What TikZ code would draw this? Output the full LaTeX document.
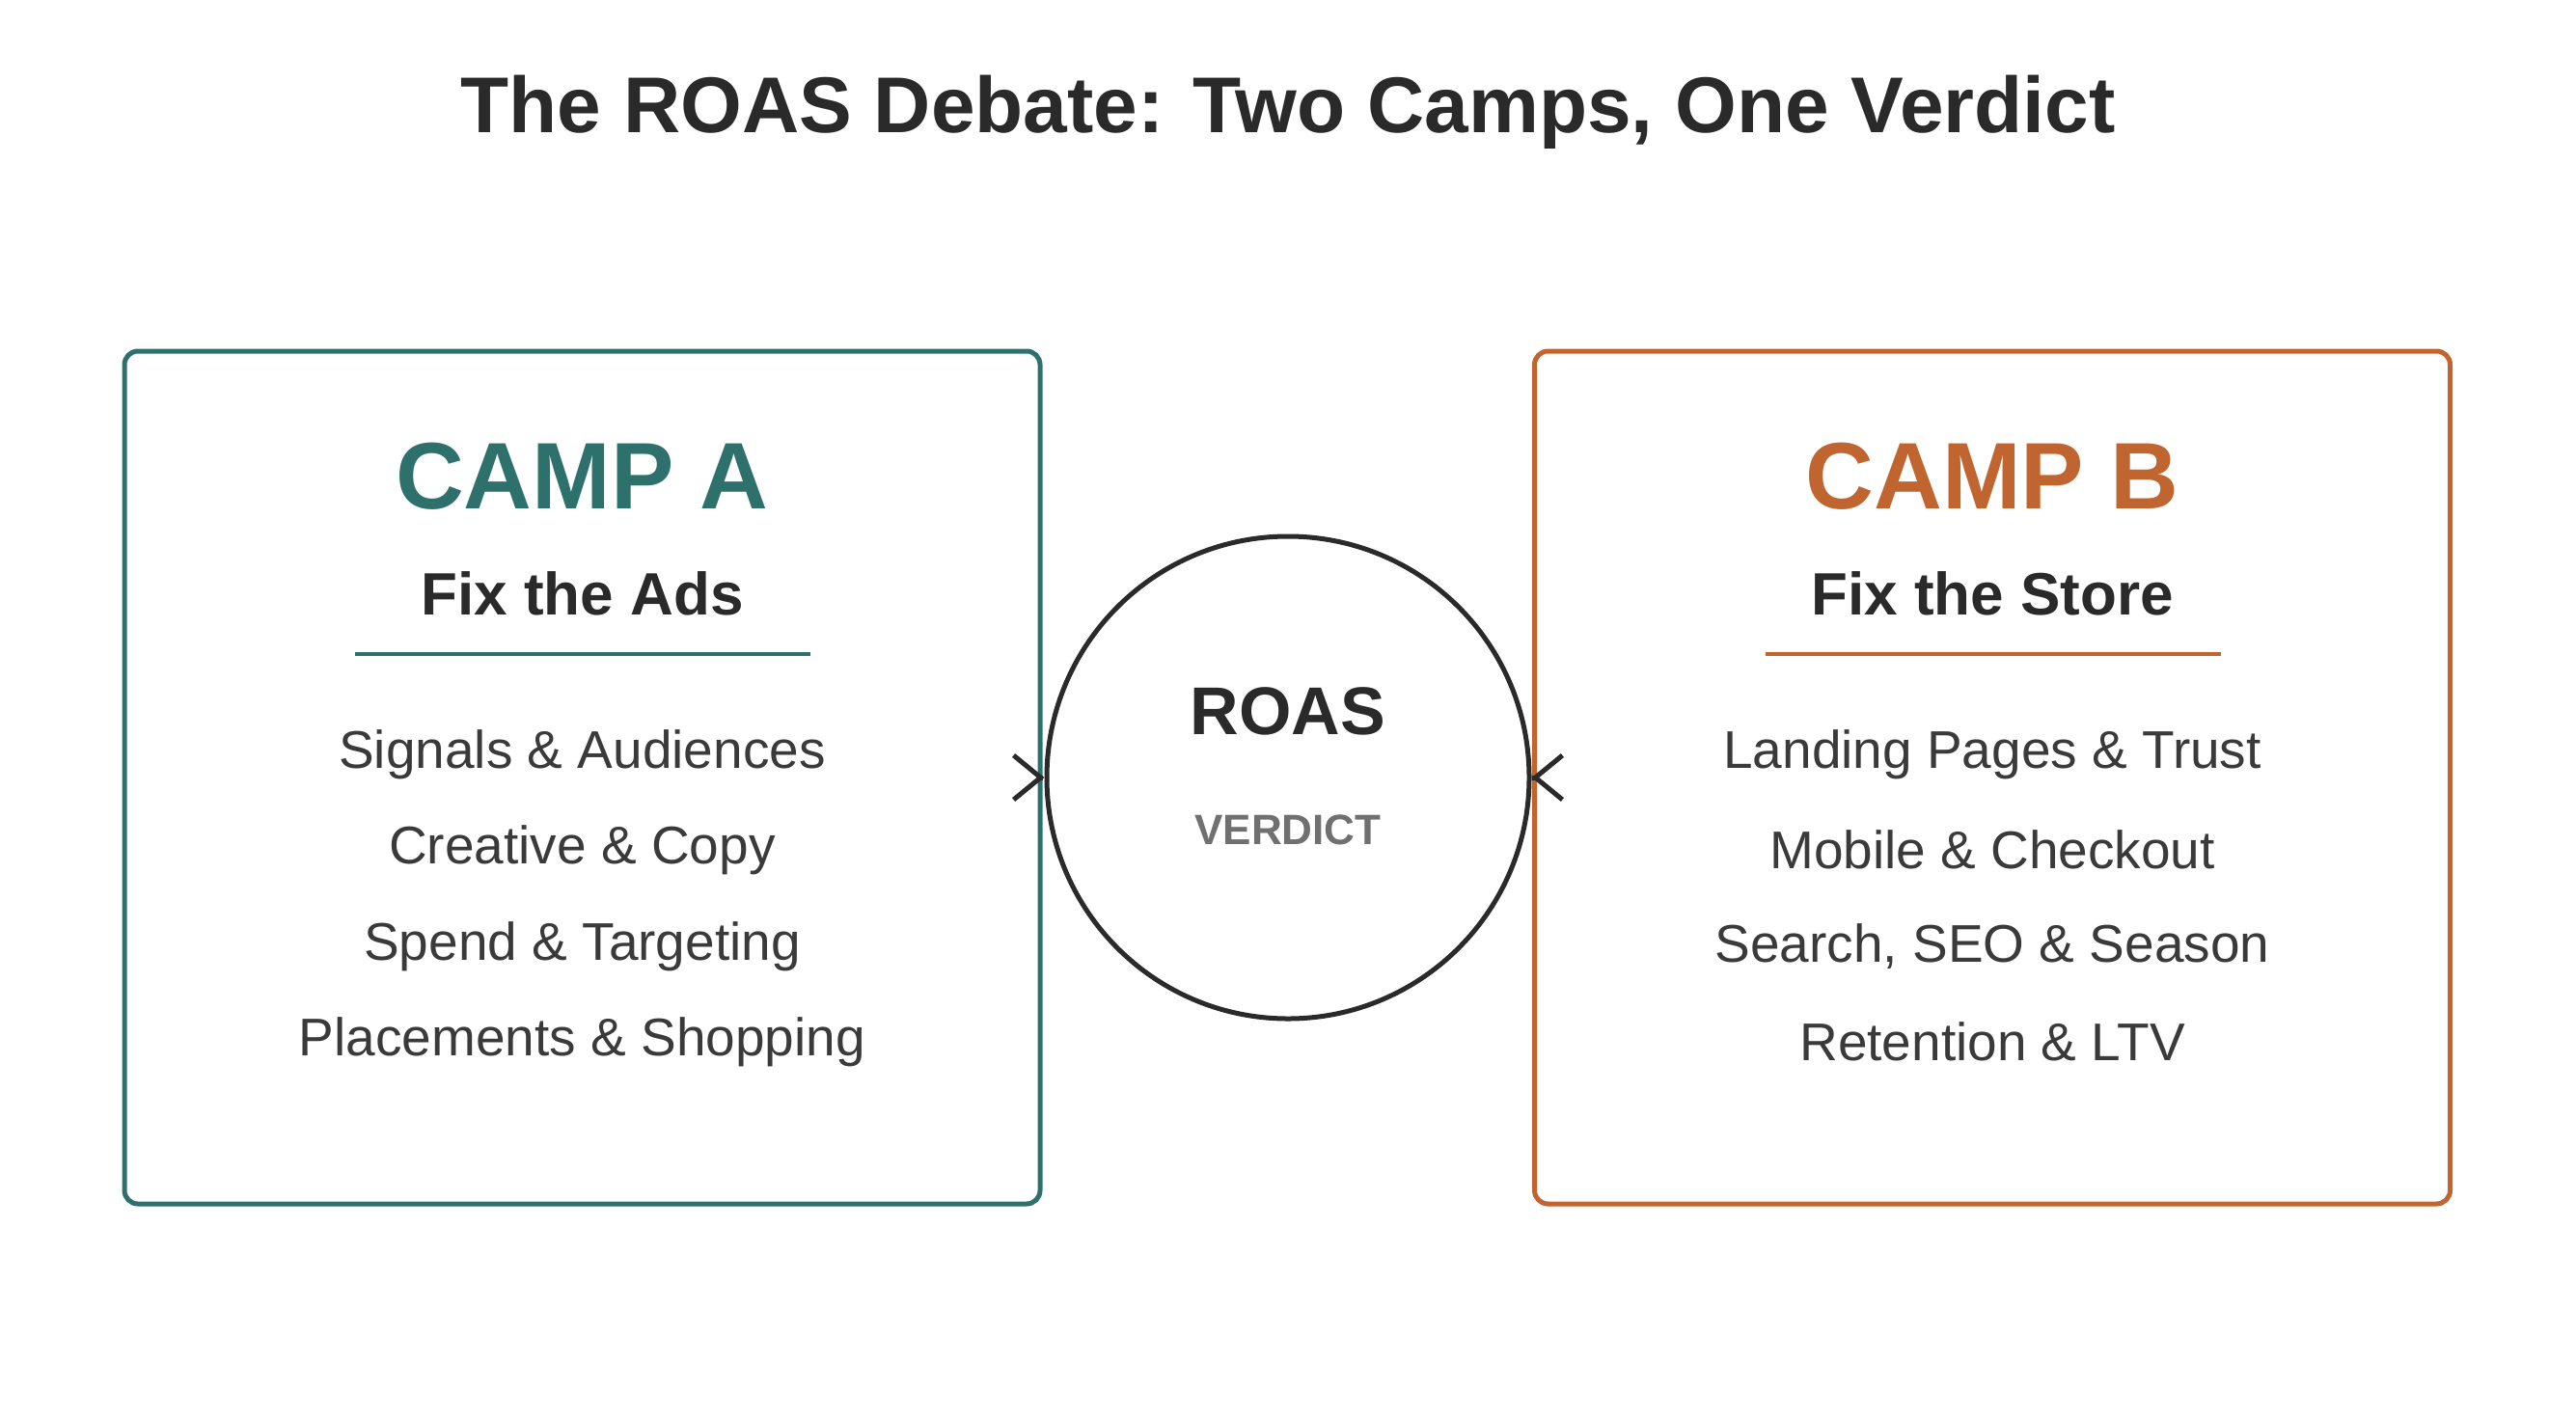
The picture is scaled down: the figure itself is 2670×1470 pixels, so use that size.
\documentclass[tikz,border=0pt]{standalone}
\usepackage{fontspec}
\setmainfont{Liberation Sans}
\usetikzlibrary{arrows.meta}
\definecolor{teal}{HTML}{2E716C}
\definecolor{orng}{HTML}{C0652F}
\definecolor{ink}{HTML}{2A2A2A}
\definecolor{txt}{HTML}{3A3A3A}
\definecolor{gry}{HTML}{707070}
\begin{document}
\begin{tikzpicture}[x=1pt,y=-1pt,
 box/.style={draw,line width=5pt,rounded corners=14pt,minimum width=949pt,minimum height=884pt,inner sep=0},
 camp/.style={font=\fontsize{98}{110}\selectfont\bfseries},
 sub/.style={font=\fontsize{62}{70}\selectfont\bfseries,text=ink},
 item/.style={font=\fontsize{55}{62}\selectfont,text=txt},
 arr/.style={draw=ink,line width=5pt,-{Straight Barb[length=28pt,width=46pt]}}]
\useasboundingbox (0,0) rectangle (2670,1470);
\node[font=\fontsize{82}{95}\selectfont\bfseries,text=ink] (title) at (1335,116) {The ROAS Debate: Two Camps, One Verdict};
\node[box,draw=teal] (A) at (603.5,806) {};
\node[box,draw=orng] (B) at (2065,806) {};
\node[circle,draw=ink,line width=5pt,minimum size=500pt,inner sep=0] (C) at (1335,806) {};
\node[camp,text=teal] (ta) at (603.5,494) {CAMP A};
\node[camp,text=orng] (tb) at (2065,494) {CAMP B};
\node[sub] (sa) at (603.5,615) {Fix the Ads};
\node[sub] (sb) at (2065,615) {Fix the Store};
\coordinate (la1) at (368,678); \coordinate (la2) at (840,678);
\coordinate (lb1) at (1830,678); \coordinate (lb2) at (2302,678);
\draw[teal,line width=3.5pt] (la1) -- (la2);
\draw[orng,line width=3.5pt] (lb1) -- (lb2);
\node[item] (a1) at (603.5,782) {Signals \& Audiences};
\node[item] (a2) at (603.5,881) {Creative \& Copy};
\node[item] (a3) at (603.5,981) {Spend \& Targeting};
\node[item] (a4) at (603.5,1080) {Placements \& Shopping};
\node[item] (b1) at (2065,782) {Landing Pages \& Trust};
\node[item] (b2) at (2065,881) {Mobile \& Checkout};
\node[item] (b3) at (2065,981) {Search, SEO \& Season};
\node[item] (b4) at (2065,1080) {Retention \& LTV};
\node[font=\fontsize{70}{80}\selectfont\bfseries,text=ink] (r) at (1335,737) {ROAS};
\node[font=\fontsize{44}{50}\selectfont\bfseries,text=gry] (v) at (1335,860) {VERDICT};
\draw[arr] (A.east) -- (C.west);
\draw[arr] (B.west) -- (C.east);
\end{tikzpicture}
\end{document}
